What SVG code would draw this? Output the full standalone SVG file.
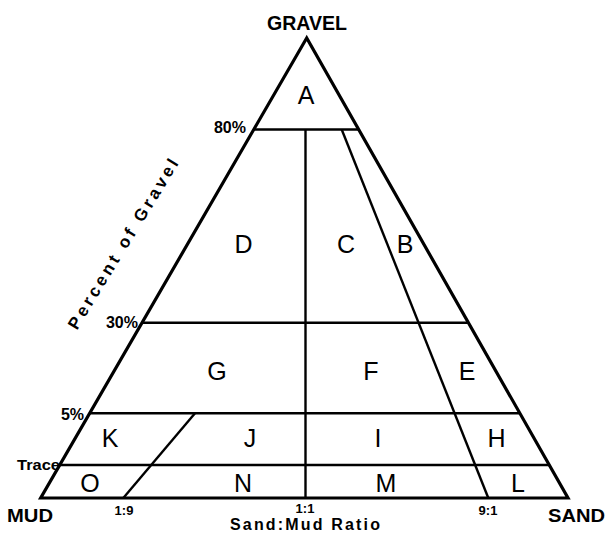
<svg xmlns="http://www.w3.org/2000/svg" width="609" height="534" viewBox="0 0 609 534">
<style>
.edge{fill:none;stroke:#000;stroke-width:3.2;stroke-linejoin:miter}
.ln{fill:none;stroke:#000;stroke-width:2.4}
.reg{font-family:"Liberation Sans",Arial,sans-serif;font-size:25px;text-anchor:middle;fill:#000}
.lab{font-family:"Liberation Sans",Arial,sans-serif;font-weight:bold;fill:#000}
</style>
<rect width="609" height="534" fill="#fff"/>
<g id="lines">
<polygon class="edge" points="306.7,38 40.7,498 568,498"/>
<line class="ln" x1="253.7" y1="129.5" x2="358.7" y2="129.5"/>
<line class="ln" x1="142" y1="322.7" x2="468.4" y2="322.7"/>
<line class="ln" x1="89.7" y1="413.3" x2="519.9" y2="413.3"/>
<line class="ln" x1="59.8" y1="465" x2="549" y2="465"/>
<line class="ln" x1="305.5" y1="129.5" x2="305.5" y2="498"/>
<line class="ln" x1="341.7" y1="129.5" x2="488.3" y2="498"/>
<line class="ln" x1="195" y1="413.3" x2="123.3" y2="498"/>
</g>
<g id="regions">
<text class="reg" x="306" y="104">A</text>
<text class="reg" x="243.5" y="253">D</text>
<text class="reg" x="346" y="253">C</text>
<text class="reg" x="405" y="253">B</text>
<text class="reg" x="217" y="380">G</text>
<text class="reg" x="371" y="380">F</text>
<text class="reg" x="467" y="380">E</text>
<text class="reg" x="110" y="446.5">K</text>
<text class="reg" x="250" y="446.5">J</text>
<text class="reg" x="378" y="446.5">I</text>
<text class="reg" x="496.5" y="446.5">H</text>
<text class="reg" x="90" y="491.5">O</text>
<text class="reg" x="243" y="491.5">N</text>
<text class="reg" x="386" y="491.5">M</text>
<text class="reg" x="518" y="491.5">L</text>
</g>
<g id="labels">
<text class="lab" x="307" y="30" font-size="20" text-anchor="middle" textLength="80" lengthAdjust="spacingAndGlyphs">GRAVEL</text>
<text class="lab" x="7" y="522" font-size="18" textLength="46" lengthAdjust="spacingAndGlyphs">MUD</text>
<text class="lab" x="548" y="522" font-size="18" textLength="57" lengthAdjust="spacingAndGlyphs">SAND</text>
<text class="lab" x="246" y="133" font-size="16" text-anchor="end">80%</text>
<text class="lab" x="138" y="328" font-size="16" text-anchor="end">30%</text>
<text class="lab" x="84" y="420" font-size="16" text-anchor="end">5%</text>
<text class="lab" x="60" y="470" font-size="14" text-anchor="end" textLength="43" lengthAdjust="spacingAndGlyphs">Trace</text>
<text class="lab" x="124" y="515" font-size="13" text-anchor="middle">1:9</text>
<text class="lab" x="305" y="513" font-size="13" text-anchor="middle">1:1</text>
<text class="lab" x="488" y="515" font-size="13" text-anchor="middle">9:1</text>
<text class="lab" x="305" y="530" font-size="16" text-anchor="middle" textLength="150" lengthAdjust="spacing">Sand:Mud Ratio</text>
<text class="lab" font-size="17" text-anchor="middle" textLength="196" lengthAdjust="spacing" transform="translate(128,247) rotate(-58.6)">Percent of Gravel</text>
</g>
</svg>
